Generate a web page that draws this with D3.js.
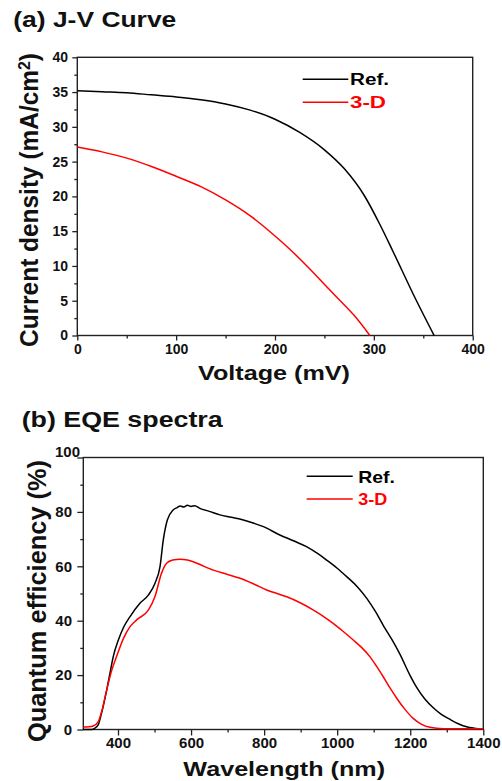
<!DOCTYPE html>
<html>
<head>
<meta charset="utf-8">
<script src="https://cdn.jsdelivr.net/npm/d3@7"></script>
<style>
  body { margin: 0; background: #fff; }
  text { font-family: "Liberation Sans", Arial, sans-serif; font-weight: bold; }
</style>
</head>
<body>
<div id="chart"></div>
<script>
// (a) J-V curve
const jvRefV = [0, 25, 50, 75, 100, 125, 150, 175, 200, 225, 250, 270, 290, 306, 320, 340, 361];
const jvRefJ = [35.2, 35.05, 34.9, 34.6, 34.3, 33.9, 33.3, 32.4, 31.1, 29.2, 26.7, 24.0, 20.2, 16.0, 11.9, 5.9, 0];
const jv3dV = [0, 25, 50, 75, 100, 125, 150, 175, 200, 215, 235, 255, 266, 280, 296];
const jv3dJ = [27.1, 26.4, 25.5, 24.3, 22.9, 21.4, 19.5, 17.2, 14.3, 12.4, 9.6, 6.6, 5.0, 2.9, 0];

// (b) EQE spectra
const eqeRefW = [305, 320, 328, 335, 346, 355, 369, 378, 387, 401, 415, 433, 460, 483, 501, 515, 524, 535, 551,
  562, 570, 580, 590, 600, 610, 624, 650, 679, 710, 743, 770, 798, 843, 880, 916, 945, 971, 1000, 1026, 1055,
  1081, 1105, 1126, 1150, 1172, 1199, 1218, 1240, 1263, 1285, 1309, 1330, 1354, 1375, 1400];
const eqeRef = [0, 0, 0, 0.3, 1.8, 6, 14.5, 20.7, 26.8, 32.9, 37.5, 41.5, 46.4, 49.4, 53.7, 59.9, 69.7, 77.0, 80.7,
  81.6, 82.2, 81.8, 82.4, 82.0, 82.3, 81.3, 80.2, 78.9, 78.0, 77.0, 75.9, 74.6, 71.5, 69.4, 67.2, 64.8, 62.3, 59.3, 56.2, 52.5,
  48.2, 43.3, 38.3, 33.0, 27.6, 20.0, 15.4, 11.2, 8.0, 5.6, 3.7, 2.2, 1.0, 0.5, 0.2];
const eqe3dW = [305, 320, 332, 346, 355, 369, 383, 396, 415, 433, 451, 483, 501, 519, 533, 550, 570, 590, 606, 630,
  661, 700, 734, 770, 807, 835, 862, 900, 935, 960, 989, 1015, 1044, 1068, 1090, 1108, 1126, 1145, 1163,
  1185, 1208, 1230, 1254, 1290, 1340, 1400];
const eqe3d = [0.9, 1.0, 1.3, 2.9, 6.5, 14.5, 21.9, 26.8, 33.5, 37.8, 40.3, 43.9, 48.8, 57.4, 61.1, 62.3, 62.6, 62.3, 61.7, 60.3,
  58.6, 57.0, 55.6, 53.6, 51.3, 50.0, 48.8, 46.5, 43.9, 41.8, 39.0, 36.2, 32.9, 30.0, 26.7, 23.2, 19.4, 15.2, 11.5,
  7.5, 4.1, 2.0, 0.8, 0.3, 0.3, 0.3];

const seriesNames = ["Ref.", "3-D"];
const seriesColors = ["#000000", "#ff0000"];

const width = 502, height = 781;

let svg = d3.select("#chart")
  .append("svg")
  .attr("width", width)
  .attr("height", height);

function drawPanel(p) {
  let x = d3.scaleLinear().domain(p.xDomain).range([p.box.left, p.box.right]);
  let y = d3.scaleLinear().domain(p.yDomain).range([p.box.bottom, p.box.top]);
  let g = svg.append("g");

  // minor ticks
  g.append("g")
    .attr("transform", `translate(0,${p.box.bottom})`)
    .call(d3.axisBottom(x).tickValues(p.xMinor).tickSize(3).tickFormat(""));
  g.append("g")
    .attr("transform", `translate(${p.box.left},0)`)
    .call(d3.axisLeft(y).tickValues(p.yMinor).tickSize(3).tickFormat(""));

  // major ticks + labels
  let xa = g.append("g")
    .attr("transform", `translate(0,${p.box.bottom})`)
    .call(d3.axisBottom(x).tickValues(p.xTicks).tickSize(p.tick).tickPadding(p.xPad).tickFormat(d3.format("d")));
  let ya = g.append("g")
    .attr("transform", `translate(${p.box.left},0)`)
    .call(d3.axisLeft(y).tickValues(p.yTicks).tickSize(p.tick).tickPadding(p.yPad).tickFormat(d3.format("d")));

  g.selectAll(".domain").remove();
  g.selectAll(".tick line").attr("stroke", "#222").attr("stroke-width", 1.3);
  g.selectAll(".tick text")
    .style("font-size", p.tickFont + "px")
    .attr("fill", "#111");
  if (p.shiftTop) {
    ya.selectAll(".tick text").filter(d => d === p.yDomain[1])
      .attr("dx", p.shiftTop[0]).attr("dy", p.shiftTop[1]);
  }

  // frame
  g.append("rect")
    .attr("x", p.box.left).attr("y", p.box.top)
    .attr("width", p.box.right - p.box.left)
    .attr("height", p.box.bottom - p.box.top)
    .attr("fill", "none")
    .attr("stroke", "#222")
    .attr("stroke-width", 1.4);

  // curves
  let line = d3.line()
    .x(d => x(d[0]))
    .y(d => y(d[1]))
    .curve(d3.curveMonotoneX);
  p.series.forEach((s, i) => {
    g.append("path")
      .datum(d3.zip(s[0], s[1]))
      .attr("fill", "none")
      .attr("stroke", seriesColors[i])
      .attr("stroke-width", 1.5)
      .attr("d", line);
  });

  // legend
  seriesNames.forEach((name, i) => {
    let ly = p.legend.y + i * p.legend.step;
    g.append("line")
      .attr("x1", p.legend.x1).attr("x2", p.legend.x2)
      .attr("y1", ly).attr("y2", ly)
      .attr("stroke", seriesColors[i])
      .attr("stroke-width", 1.6);
    g.append("text")
      .attr("x", p.legend.tx)
      .attr("y", ly + p.legend.font * 0.37)
      .attr("fill", seriesColors[i])
      .style("font-size", p.legend.font + "px")
      .attr("textLength", p.legend.widths[i])
      .attr("lengthAdjust", "spacingAndGlyphs")
      .text(name);
  });

  // panel title
  g.append("text")
    .attr("x", p.title.x).attr("y", p.title.y)
    .style("font-size", "22px")
    .attr("fill", "#111")
    .attr("textLength", p.title.w)
    .attr("lengthAdjust", "spacingAndGlyphs")
    .text(p.title.text);

  // x label
  g.append("text")
    .attr("x", p.xLabel.x).attr("y", p.xLabel.y)
    .attr("text-anchor", "middle")
    .style("font-size", p.xLabel.font + "px")
    .attr("fill", "#111")
    .attr("textLength", p.xLabel.w)
    .attr("lengthAdjust", "spacingAndGlyphs")
    .text(p.xLabel.text);

  // y label
  let yl = g.append("text")
    .attr("transform", `translate(${p.yLabel.x},${p.yLabel.y}) scale(1.1,1) rotate(-90)`)
    .attr("text-anchor", "middle")
    .style("font-size", p.yLabel.font + "px")
    .attr("fill", "#111")
    .attr("textLength", p.yLabel.w)
    .attr("lengthAdjust", "spacingAndGlyphs");
  yl.append("tspan").text(p.yLabel.text);
  if (p.yLabel.sup) {
    yl.append("tspan").attr("dy", "-0.45em").style("font-size", "65%").text(p.yLabel.sup);
    yl.append("tspan").attr("dy", "0.3em").text(")");
  }
}

drawPanel({
  box: {left: 77.3, right: 472.7, top: 57.3, bottom: 335.5},
  xDomain: [0, 400], yDomain: [0, 40],
  xTicks: d3.range(0, 401, 100), xMinor: d3.range(50, 400, 100),
  yTicks: d3.range(0, 41, 5), yMinor: d3.range(2.5, 40, 5),
  tick: 5, xPad: 3.5, yPad: 4.3, tickFont: 14,
  series: [[jvRefV, jvRefJ], [jv3dV, jv3dJ]],
  legend: {x1: 302.7, x2: 348.3, tx: 350, y: 79.3, step: 23, font: 16, widths: [39, 36]},
  title: {text: "(a) J-V Curve", x: 13.3, y: 26.7, w: 163},
  xLabel: {text: "Voltage (mV)", x: 274, y: 380, font: 21, w: 152},
  yLabel: {text: "Current density (mA/cm", sup: "2", x: 37.5, y: 200, font: 24, w: 294}
});

drawPanel({
  box: {left: 83.3, right: 483.3, top: 457.5, bottom: 729.5},
  xDomain: [305, 1400], yDomain: [0, 100],
  xTicks: d3.range(400, 1401, 200), xMinor: d3.range(500, 1400, 200),
  yTicks: d3.range(0, 101, 20), yMinor: d3.range(10, 100, 20),
  tick: 6, xPad: 1.5, yPad: 5.3, tickFont: 15,
  shiftTop: [8, -1],
  series: [[eqeRefW, eqeRef], [eqe3dW, eqe3d]],
  legend: {x1: 306.7, x2: 352.7, tx: 358.3, y: 476.3, step: 22.7, font: 17, widths: [36.7, 29]},
  title: {text: "(b) EQE spectra", x: 21.7, y: 427.3, w: 201},
  xLabel: {text: "Wavelength (nm)", x: 284.2, y: 776, font: 20.5, w: 201.7},
  yLabel: {text: "Quantum efficiency (%)", x: 45.5, y: 601, font: 24, w: 282}
});
</script>
</body>
</html>
